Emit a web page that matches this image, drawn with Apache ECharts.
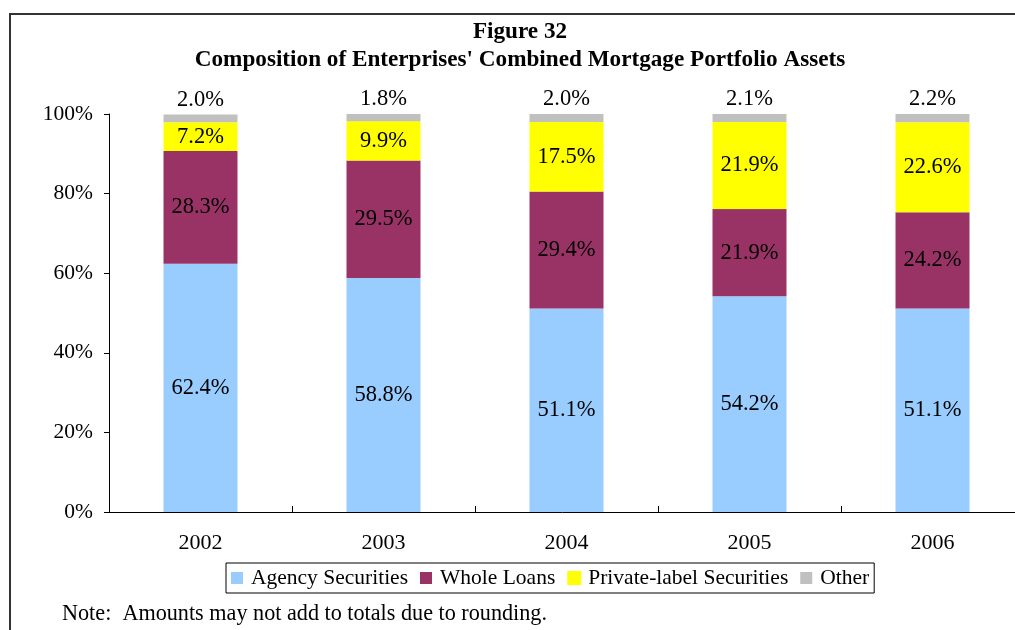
<!DOCTYPE html>
<html>
<head>
<meta charset="utf-8">
<script src="https://cdn.jsdelivr.net/npm/echarts@6/dist/echarts.min.js"></script>
<style>
  html, body { margin: 0; padding: 0; background: #fff; }
  #chart { width: 1015px; height: 630px; }
</style>
</head>
<body>
<div id="chart"></div>
<script>
// Portfolio composition by year (percent of total)
const years = ['2002', '2003', '2004', '2005', '2006'];
const agencySecurities = [62.4, 58.8, 51.1, 54.2, 51.1];
const wholeLoans = [28.3, 29.5, 29.4, 21.9, 24.2];
const privateLabel = [7.2, 9.9, 17.5, 21.9, 22.6];
const other = [2.0, 1.8, 2.0, 2.1, 2.2];
const yTicks = [0, 20, 40, 60, 80, 100];

const FONT = '"Liberation Serif", "Times New Roman", serif';

const chart = echarts.init(document.getElementById('chart'), null, { renderer: 'canvas' });

function pctLabel(position, distance) {
  return {
    show: true,
    position: position,
    distance: distance,
    color: '#000',
    fontFamily: FONT,
    fontSize: 22.5,
    formatter: p => p.value.toFixed(1) + '%'
  };
}

function barSeries(name, data, color, labelPos, extra) {
  return Object.assign({
    name: name,
    type: 'bar',
    stack: 'total',
    data: data,
    barWidth: 74,
    itemStyle: { color: color },
    label: pctLabel(labelPos, labelPos === 'top' ? 3 : 5),
    emphasis: { disabled: true },
    animation: false
  }, extra || {});
}

chart.setOption({
  backgroundColor: '#fff',
  animation: false,
  title: {
    text: 'Figure 32\nComposition of Enterprises\' Combined Mortgage Portfolio Assets',
    left: 515,
    textAlign: 'center',
    top: 13,
    textStyle: {
      fontFamily: FONT,
      fontWeight: 'bold',
      fontSize: 23.2,
      lineHeight: 28,
      color: '#000'
    }
  },
  grid: {
    left: 109,
    top: 114,
    width: 915,
    height: 398,
    outerBoundsMode: 'none',
    containLabel: false
  },
  legend: {
    left: 226,
    top: 563,
    itemWidth: 12,
    itemHeight: 12,
    itemGap: 12,
    padding: [4, 5, 4, 5],
    borderColor: '#000',
    borderWidth: 1,
    borderRadius: 0,
    icon: 'rect',
    selectedMode: false,
    textStyle: { fontFamily: FONT, fontSize: 21.5, color: '#000', padding: [0, 0, 0, 3] },
    data: ['Agency Securities', 'Whole Loans', 'Private-label Securities', 'Other']
  },
  xAxis: {
    type: 'category',
    data: years,
    axisLine: { show: true, lineStyle: { color: '#000', width: 1 } },
    axisTick: { show: true, inside: true, length: 6, alignWithLabel: false, lineStyle: { color: '#000' } },
    axisLabel: { color: '#000', fontFamily: FONT, fontSize: 22, margin: 20 },
    splitLine: { show: false }
  },
  yAxis: {
    type: 'value',
    min: yTicks[0],
    max: yTicks[yTicks.length - 1],
    interval: yTicks[1] - yTicks[0],
    axisLine: { show: true, lineStyle: { color: '#000', width: 1 } },
    axisTick: { show: true, inside: false, length: 5, lineStyle: { color: '#000' } },
    axisLabel: { color: '#000', fontFamily: FONT, fontSize: 21.5, margin: 16, formatter: '{value}%' },
    splitLine: { show: false }
  },
  series: [
    barSeries('Agency Securities', agencySecurities, '#99CCFF', 'inside'),
    barSeries('Whole Loans', wholeLoans, '#993366', 'inside'),
    barSeries('Private-label Securities', privateLabel, '#FFFF00', 'inside',
      { itemStyle: { color: '#FFFF00', borderColor: '#FFFF00', borderWidth: 1 } }),
    barSeries('Other', other, '#C0C0C0', 'top')
  ],
  graphic: [
    // page frame
    { type: 'line', shape: { x1: 9, y1: 14, x2: 1015, y2: 14 }, style: { stroke: '#333', lineWidth: 2 }, silent: true },
    { type: 'line', shape: { x1: 10, y1: 14, x2: 10, y2: 630 }, style: { stroke: '#333', lineWidth: 2 }, silent: true },
    {
      type: 'text',
      left: 62,
      top: 603,
      style: {
        text: 'Note:  Amounts may not add to totals due to rounding.',
        font: '22.2px ' + FONT,
        fill: '#000'
      },
      silent: true
    }
  ]
});
</script>
</body>
</html>
